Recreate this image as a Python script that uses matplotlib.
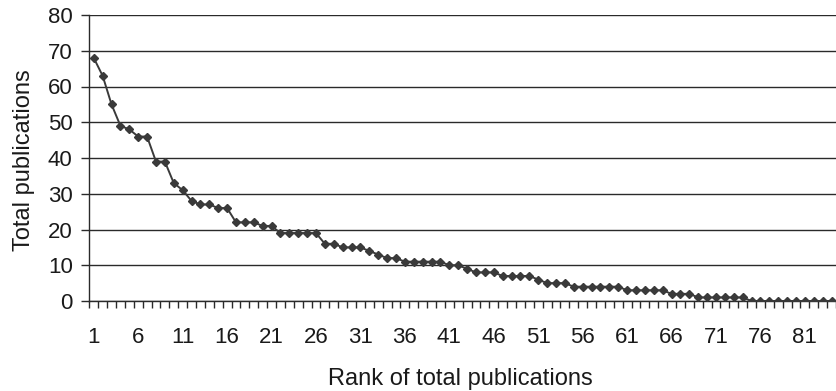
import matplotlib
matplotlib.use("Agg")
import matplotlib.pyplot as plt
import numpy as np

plt.rcParams['font.family'] = ['Liberation Sans', 'DejaVu Sans']

ranks = list(range(1, 85))
publications = [68, 63, 55, 49, 48, 46, 46, 39, 39, 33,
                31, 28, 27, 27, 26, 26, 22, 22, 22, 21,
                21, 19, 19, 19, 19, 19, 16, 16, 15, 15,
                15, 14, 13, 12, 12, 11, 11, 11, 11, 11,
                10, 10, 9, 8, 8, 8, 7, 7, 7, 7,
                6, 5, 5, 5, 4, 4, 4, 4, 4, 4,
                3, 3, 3, 3, 3, 2, 2, 2, 1, 1,
                1, 1, 1, 1, 0, 0, 0, 0, 0, 0,
                0, 0, 0, 0]
xtick_labels = [str(r) for r in ranks[::5]]
y_ticks = list(range(0, 81, 10))

fig = plt.figure(figsize=(8.36, 3.91), dpi=100)
ax = fig.add_axes([89.3 / 836, 90 / 391, 1 - 89.3 / 836, 286 / 391])

for yv in y_ticks:
    ax.axhline(yv, color='#2a2a2a', lw=1.0, zorder=1)

ax.plot(ranks, publications, color='#3a3a3a', lw=1.4, marker='D', markersize=4.2,
        markerfacecolor='#3a3a3a', markeredgecolor='#3a3a3a', zorder=3, clip_on=True)

ax.set_xlim(0.5, 0.5 + (836 - 89.3) / 8.92)
ax.set_ylim(0, 80)

ax.set_yticks(y_ticks)
ax.set_yticklabels([str(v) for v in y_ticks], fontsize=16, color='#1a1a1a')
ax.tick_params(axis='y', length=5.8, width=1.0, color='#2a2a2a', pad=6.2, direction='out')

ax.set_xticks(ranks[::5])
ax.set_xticklabels(xtick_labels, fontsize=16, color='#1a1a1a')
ax.set_xticks(np.arange(0.5, 85, 1.0), minor=True)
ax.tick_params(axis='x', which='major', length=0, pad=19)
ax.tick_params(axis='x', which='minor', length=5, width=1.0, color='#2a2a2a', direction='out')

for s in ['top', 'right']:
    ax.spines[s].set_visible(False)
for s in ['left', 'bottom']:
    ax.spines[s].set_color('#2a2a2a')
    ax.spines[s].set_linewidth(1.0)

ax.set_ylabel('Total publications', fontsize=17, color='#1a1a1a')
ax.set_xlabel('Rank of total publications', fontsize=17, color='#1a1a1a')
ax.xaxis.set_label_coords((460 - 89.3) / (836 - 89.3), -(368 - 301) / 286, transform=ax.transAxes)
ax.yaxis.set_label_coords(-(89.3 - 35) / (836 - 89.3), (301 - 160) / 286, transform=ax.transAxes)

fig.savefig('out.png', dpi=100)
